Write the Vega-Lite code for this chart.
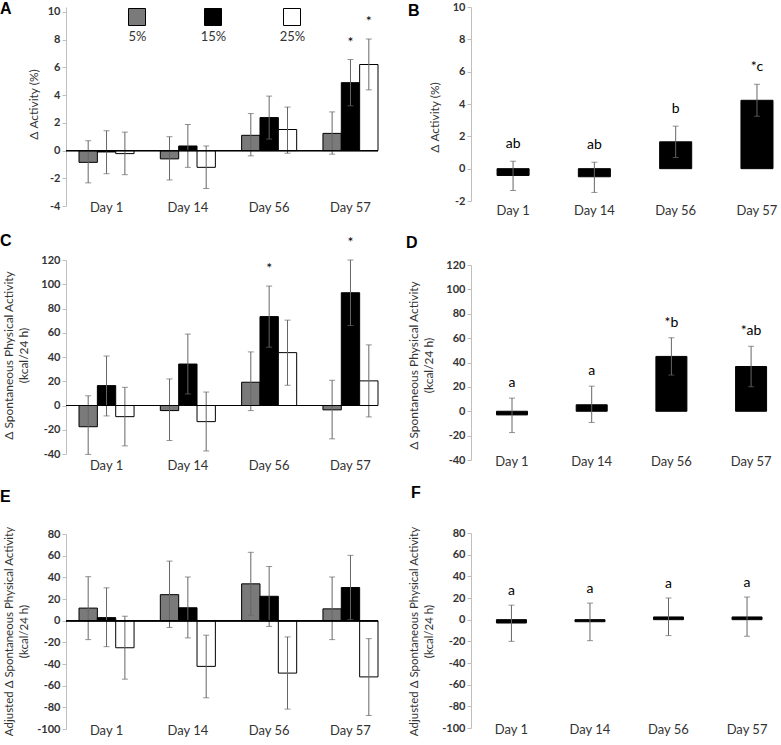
{
  "$schema": "https://vega.github.io/schema/vega-lite/v6.json",
  "background": "white",
  "padding": 0,
  "config": {
    "font": "Lato",
    "view": {"stroke": null},
    "axisY": {"grid": false, "domainColor": "#bfbfbf", "tickColor": "#bfbfbf", "tickSize": 4, "labelFontWeight": "bold", "labelFontSize": 11, "labelPadding": 2, "labelColor": "#333", "labelOverlap": false, "titleFontSize": 12, "titleFontWeight": "normal", "titleColor": "#333", "titleAlign": "center", "titleBaseline": "middle", "titleAngle": -90, "titleLineHeight": 15.5},
    "axisX": {"domain": false, "ticks": false, "labelAngle": 0, "labelFontSize": 13, "labelBaseline": "middle", "labelColor": "#333", "labelOverlap": false, "title": null},
    "title": {"anchor": "start", "frame": "group", "offset": 0, "fontSize": 16, "font": "Liberation Sans", "fontWeight": "bold", "baseline": "alphabetic", "color": "#000"}
  },
  "datasets": {
    "A": [
      {"day": "Day 1", "conc": "5%", "mean": -0.85, "lo": -2.33, "hi": 0.71, "label": ""},
      {"day": "Day 1", "conc": "15%", "mean": -0.1, "lo": -1.67, "hi": 1.43, "label": ""},
      {"day": "Day 1", "conc": "25%", "mean": -0.22, "lo": -1.74, "hi": 1.33, "label": ""},
      {"day": "Day 14", "conc": "5%", "mean": -0.6, "lo": -2.12, "hi": 1.0, "label": ""},
      {"day": "Day 14", "conc": "15%", "mean": 0.33, "lo": -1.21, "hi": 1.88, "label": ""},
      {"day": "Day 14", "conc": "25%", "mean": -1.21, "lo": -2.74, "hi": 0.33, "label": ""},
      {"day": "Day 56", "conc": "5%", "mean": 1.1, "lo": -0.38, "hi": 2.67, "label": ""},
      {"day": "Day 56", "conc": "15%", "mean": 2.38, "lo": 0.83, "hi": 3.93, "label": ""},
      {"day": "Day 56", "conc": "25%", "mean": 1.52, "lo": -0.19, "hi": 3.14, "label": ""},
      {"day": "Day 57", "conc": "5%", "mean": 1.24, "lo": -0.26, "hi": 2.79, "label": ""},
      {"day": "Day 57", "conc": "15%", "mean": 4.9, "lo": 3.23, "hi": 6.57, "label": "*"},
      {"day": "Day 57", "conc": "25%", "mean": 6.21, "lo": 4.38, "hi": 8.05, "label": "*"}
    ],
    "B": [
      {"day": "Day 1", "mean": -0.42, "lo": -1.35, "hi": 0.46, "label": "ab"},
      {"day": "Day 14", "mean": -0.5, "lo": -1.47, "hi": 0.4, "label": "ab"},
      {"day": "Day 56", "mean": 1.66, "lo": 0.69, "hi": 2.63, "label": "b"},
      {"day": "Day 57", "mean": 4.23, "lo": 3.24, "hi": 5.22, "label": "*c"}
    ],
    "C": [
      {"day": "Day 1", "conc": "5%", "mean": -17.5, "lo": -40.3, "hi": 8, "label": ""},
      {"day": "Day 1", "conc": "15%", "mean": 16.4, "lo": -8.6, "hi": 40.8, "label": ""},
      {"day": "Day 1", "conc": "25%", "mean": -9.2, "lo": -33.3, "hi": 15, "label": ""},
      {"day": "Day 14", "conc": "5%", "mean": -4.2, "lo": -28.9, "hi": 21.9, "label": ""},
      {"day": "Day 14", "conc": "15%", "mean": 34.2, "lo": 9.5, "hi": 58.9, "label": ""},
      {"day": "Day 14", "conc": "25%", "mean": -13.3, "lo": -37.5, "hi": 11.1, "label": ""},
      {"day": "Day 56", "conc": "5%", "mean": 19.2, "lo": -4.2, "hi": 44.2, "label": ""},
      {"day": "Day 56", "conc": "15%", "mean": 73.3, "lo": 48.1, "hi": 98.5, "label": "*"},
      {"day": "Day 56", "conc": "25%", "mean": 43.6, "lo": 16.7, "hi": 70.4, "label": ""},
      {"day": "Day 57", "conc": "5%", "mean": -3.6, "lo": -27.5, "hi": 20.8, "label": ""},
      {"day": "Day 57", "conc": "15%", "mean": 93, "lo": 66, "hi": 120, "label": "*"},
      {"day": "Day 57", "conc": "25%", "mean": 20.3, "lo": -9.4, "hi": 50, "label": ""}
    ],
    "D": [
      {"day": "Day 1", "mean": -3, "lo": -17.5, "hi": 10.8, "label": "a"},
      {"day": "Day 14", "mean": 5.3, "lo": -9.2, "hi": 20.6, "label": "a"},
      {"day": "Day 56", "mean": 45, "lo": 29.7, "hi": 60.3, "label": "*b"},
      {"day": "Day 57", "mean": 36.7, "lo": 20.1, "hi": 53.3, "label": "*ab"}
    ],
    "E": [
      {"day": "Day 1", "conc": "5%", "mean": 11.6, "lo": -17.5, "hi": 40.6, "label": ""},
      {"day": "Day 1", "conc": "15%", "mean": 2.8, "lo": -24, "hi": 30.3, "label": ""},
      {"day": "Day 1", "conc": "25%", "mean": -25, "lo": -54, "hi": 4.1, "label": ""},
      {"day": "Day 14", "conc": "5%", "mean": 24, "lo": -6.25, "hi": 55, "label": ""},
      {"day": "Day 14", "conc": "15%", "mean": 11.9, "lo": -15.9, "hi": 40.3, "label": ""},
      {"day": "Day 14", "conc": "25%", "mean": -42.2, "lo": -71.2, "hi": -13.4, "label": ""},
      {"day": "Day 56", "conc": "5%", "mean": 34, "lo": 5, "hi": 63.1, "label": ""},
      {"day": "Day 56", "conc": "15%", "mean": 22.5, "lo": -5.3, "hi": 50, "label": ""},
      {"day": "Day 56", "conc": "25%", "mean": -48.4, "lo": -81.6, "hi": -15, "label": ""},
      {"day": "Day 57", "conc": "5%", "mean": 10.9, "lo": -17.5, "hi": 40.3, "label": ""},
      {"day": "Day 57", "conc": "15%", "mean": 30.6, "lo": 0.9, "hi": 60.3, "label": ""},
      {"day": "Day 57", "conc": "25%", "mean": -51.9, "lo": -87.5, "hi": -16.6, "label": ""}
    ],
    "F": [
      {"day": "Day 1", "mean": -3.1, "lo": -20, "hi": 13.4, "label": "a"},
      {"day": "Day 14", "mean": -1.9, "lo": -19.4, "hi": 15.3, "label": "a"},
      {"day": "Day 56", "mean": 2.5, "lo": -14.7, "hi": 20, "label": "a"},
      {"day": "Day 57", "mean": 2.5, "lo": -15.3, "hi": 20.9, "label": "a"}
    ]
  },
  "spacing": 27,
  "resolve": {"scale": {"fill": "independent"}, "legend": {"fill": "independent"}},
  "hconcat": [
    {
      "spacing": 19,
      "resolve": {"scale": {"fill": "independent"}, "legend": {"fill": "independent"}},
      "vconcat": [
        {
          "width": 312, "height": 199,
          "title": {"text": "A", "dx": -66, "dy": 15},
          "data": {"name": "A"},
          "layer": [
            {"mark": {"type": "bar", "stroke": "#000", "strokeWidth": 1},
             "encoding": {
               "x": {"field": "day", "type": "nominal", "sort": ["Day 1", "Day 14", "Day 56", "Day 57"], "scale": {"paddingInner": 0.323, "paddingOuter": 0.08, "align": 1}, "axis": {"labelPadding": 1}},
               "xOffset": {"field": "conc", "type": "nominal", "sort": ["5%", "15%", "25%"], "scale": {"paddingInner": 0, "paddingOuter": 0}},
               "y": {"field": "mean", "type": "quantitative", "scale": {"domain": [-4, 10.36], "nice": false, "zero": false}, "axis": {"values": [-4, -2, 0, 2, 4, 6, 8, 10], "tickCount": 30, "labelExpr": "'' + datum.value", "labelOverlap": false, "title": "Δ Activity (%)", "titleX": -33, "titleY": 97}},
               "y2": {"datum": 0},
               "fill": {"field": "conc", "type": "nominal", "sort": ["5%", "15%", "25%"], "scale": {"domain": ["5%", "15%", "25%"], "range": ["#7a7a7a", "#000000", "#ffffff"]},
                 "legend": {"orient": "none", "legendX": 62, "legendY": 1, "direction": "horizontal", "title": null, "symbolType": "square", "symbolSize": 289, "symbolStrokeColor": "#000", "symbolStrokeWidth": 1, "symbolOpacity": 1, "labelFontSize": 13, "labelAlign": "center", "labelOffset": -8.5, "labelBaseline": "middle", "columnPadding": 52, "labelColor": "#333",
                   "encoding": {"labels": {"dy": {"value": 20}}}}}
             }},
            {"mark": {"type": "rule", "color": "#666", "strokeWidth": 1},
             "encoding": {
               "x": {"field": "day", "type": "nominal", "sort": ["Day 1", "Day 14", "Day 56", "Day 57"]},
               "xOffset": {"field": "conc", "type": "nominal", "sort": ["5%", "15%", "25%"]},
               "y": {"field": "lo", "type": "quantitative"}, "y2": {"field": "hi"}}},
            {"mark": {"type": "tick", "color": "#666", "size": 6, "thickness": 1},
             "encoding": {
               "x": {"field": "day", "type": "nominal", "sort": ["Day 1", "Day 14", "Day 56", "Day 57"]},
               "xOffset": {"field": "conc", "type": "nominal", "sort": ["5%", "15%", "25%"]},
               "y": {"field": "hi", "type": "quantitative"}}},
            {"mark": {"type": "tick", "color": "#666", "size": 6, "thickness": 1},
             "encoding": {
               "x": {"field": "day", "type": "nominal", "sort": ["Day 1", "Day 14", "Day 56", "Day 57"]},
               "xOffset": {"field": "conc", "type": "nominal", "sort": ["5%", "15%", "25%"]},
               "y": {"field": "lo", "type": "quantitative"}}},
            {"mark": {"type": "rule", "color": "#000", "strokeWidth": 1}, "encoding": {"y": {"datum": 0}}},
            {"mark": {"type": "text", "dy": -17, "fontSize": 14, "baseline": "middle", "color": "#000"},
             "encoding": {
               "x": {"field": "day", "type": "nominal", "sort": ["Day 1", "Day 14", "Day 56", "Day 57"]},
               "xOffset": {"field": "conc", "type": "nominal", "sort": ["5%", "15%", "25%"]},
               "y": {"field": "hi", "type": "quantitative"}, "text": {"field": "label"}}}
          ]
        },
        {
          "spacing": 17,
          "resolve": {"scale": {"fill": "independent"}, "legend": {"fill": "independent"}},
          "vconcat": [
            {
              "width": 312, "height": 194,
              "title": {"text": "C", "dx": -66, "dy": 17},
              "data": {"name": "C"},
              "layer": [
                {"mark": {"type": "bar", "stroke": "#000", "strokeWidth": 1},
                 "encoding": {
                   "x": {"field": "day", "type": "nominal", "sort": ["Day 1", "Day 14", "Day 56", "Day 57"], "scale": {"paddingInner": 0.323, "paddingOuter": 0.08, "align": 1}, "axis": {"labelPadding": 11}},
                   "xOffset": {"field": "conc", "type": "nominal", "sort": ["5%", "15%", "25%"], "scale": {"paddingInner": 0, "paddingOuter": 0}},
                   "y": {"field": "mean", "type": "quantitative", "scale": {"domain": [-40, 120], "nice": false, "zero": false}, "axis": {"values": [-40, -20, 0, 20, 40, 60, 80, 100, 120], "tickCount": 30, "labelExpr": "'' + datum.value", "labelOverlap": false, "title": ["Δ Spontaneous Physical Activity", "(kcal/24 h)"], "titleX": -58, "titleY": 95}},
                   "y2": {"datum": 0},
                   "fill": {"field": "conc", "type": "nominal", "sort": ["5%", "15%", "25%"], "scale": {"domain": ["5%", "15%", "25%"], "range": ["#7a7a7a", "#000000", "#ffffff"]}, "legend": null}
                 }},
                {"mark": {"type": "rule", "color": "#666", "strokeWidth": 1},
                 "encoding": {
                   "x": {"field": "day", "type": "nominal", "sort": ["Day 1", "Day 14", "Day 56", "Day 57"]},
                   "xOffset": {"field": "conc", "type": "nominal", "sort": ["5%", "15%", "25%"]},
                   "y": {"field": "lo", "type": "quantitative"}, "y2": {"field": "hi"}}},
                {"mark": {"type": "tick", "color": "#666", "size": 6, "thickness": 1},
                 "encoding": {
                   "x": {"field": "day", "type": "nominal", "sort": ["Day 1", "Day 14", "Day 56", "Day 57"]},
                   "xOffset": {"field": "conc", "type": "nominal", "sort": ["5%", "15%", "25%"]},
                   "y": {"field": "hi", "type": "quantitative"}}},
                {"mark": {"type": "tick", "color": "#666", "size": 6, "thickness": 1},
                 "encoding": {
                   "x": {"field": "day", "type": "nominal", "sort": ["Day 1", "Day 14", "Day 56", "Day 57"]},
                   "xOffset": {"field": "conc", "type": "nominal", "sort": ["5%", "15%", "25%"]},
                   "y": {"field": "lo", "type": "quantitative"}}},
                {"mark": {"type": "rule", "color": "#000", "strokeWidth": 1}, "encoding": {"y": {"datum": 0}}},
                {"mark": {"type": "text", "dy": -17, "fontSize": 14, "baseline": "middle", "color": "#000"},
                 "encoding": {
                   "x": {"field": "day", "type": "nominal", "sort": ["Day 1", "Day 14", "Day 56", "Day 57"]},
                   "xOffset": {"field": "conc", "type": "nominal", "sort": ["5%", "15%", "25%"]},
                   "y": {"field": "hi", "type": "quantitative"}, "text": {"field": "label"}}}
              ]
            },
            {
              "width": 312, "height": 195,
              "title": {"text": "E", "dx": -66, "dy": -17},
              "data": {"name": "E"},
              "layer": [
                {"mark": {"type": "bar", "stroke": "#000", "strokeWidth": 1},
                 "encoding": {
                   "x": {"field": "day", "type": "nominal", "sort": ["Day 1", "Day 14", "Day 56", "Day 57"], "scale": {"paddingInner": 0.323, "paddingOuter": 0.08, "align": 1}, "axis": {"labelPadding": 1}},
                   "xOffset": {"field": "conc", "type": "nominal", "sort": ["5%", "15%", "25%"], "scale": {"paddingInner": 0, "paddingOuter": 0}},
                   "y": {"field": "mean", "type": "quantitative", "scale": {"domain": [-100, 80], "nice": false, "zero": false}, "axis": {"values": [-100, -80, -60, -40, -20, 0, 20, 40, 60, 80], "tickCount": 30, "labelExpr": "'' + datum.value", "labelOverlap": false, "title": ["Adjusted Δ Spontaneous Physical Activity", "(kcal/24 h)"], "titleFontSize": 11.5, "titleX": -57, "titleY": 97}},
                   "y2": {"datum": 0},
                   "fill": {"field": "conc", "type": "nominal", "sort": ["5%", "15%", "25%"], "scale": {"domain": ["5%", "15%", "25%"], "range": ["#7a7a7a", "#000000", "#ffffff"]}, "legend": null}
                 }},
                {"mark": {"type": "rule", "color": "#666", "strokeWidth": 1},
                 "encoding": {
                   "x": {"field": "day", "type": "nominal", "sort": ["Day 1", "Day 14", "Day 56", "Day 57"]},
                   "xOffset": {"field": "conc", "type": "nominal", "sort": ["5%", "15%", "25%"]},
                   "y": {"field": "lo", "type": "quantitative"}, "y2": {"field": "hi"}}},
                {"mark": {"type": "tick", "color": "#666", "size": 6, "thickness": 1},
                 "encoding": {
                   "x": {"field": "day", "type": "nominal", "sort": ["Day 1", "Day 14", "Day 56", "Day 57"]},
                   "xOffset": {"field": "conc", "type": "nominal", "sort": ["5%", "15%", "25%"]},
                   "y": {"field": "hi", "type": "quantitative"}}},
                {"mark": {"type": "tick", "color": "#666", "size": 6, "thickness": 1},
                 "encoding": {
                   "x": {"field": "day", "type": "nominal", "sort": ["Day 1", "Day 14", "Day 56", "Day 57"]},
                   "xOffset": {"field": "conc", "type": "nominal", "sort": ["5%", "15%", "25%"]},
                   "y": {"field": "lo", "type": "quantitative"}}},
                {"mark": {"type": "rule", "color": "#000", "strokeWidth": 1}, "encoding": {"y": {"datum": 0}}}
              ]
            }
          ]
        }
      ]
    },
    {
      "spacing": 18,
      "vconcat": [
        {
          "width": 311, "height": 194,
          "title": {"text": "B", "dx": -63, "dy": 22},
          "data": {"name": "B"},
          "encoding": {
            "x": {"field": "day", "type": "nominal", "sort": ["Day 1", "Day 14", "Day 56", "Day 57"], "scale": {"paddingInner": 0.606, "paddingOuter": 0.2157, "align": 0.743}, "axis": {"labelPadding": 9}}
          },
          "layer": [
            {"mark": {"type": "bar", "stroke": "#000", "strokeWidth": 1, "fill": "#000"},
             "encoding": {
               "y": {"field": "mean", "type": "quantitative", "scale": {"domain": [-2, 10], "nice": false, "zero": false}, "axis": {"values": [-2, 0, 2, 4, 6, 8, 10], "tickCount": 30, "labelExpr": "'' + datum.value", "labelOverlap": false, "title": "Δ Activity (%)", "titleX": -37, "titleY": 110}},
               "y2": {"datum": 0}}},
            {"mark": {"type": "rule", "color": "#666", "strokeWidth": 1},
             "encoding": {"y": {"field": "lo", "type": "quantitative"}, "y2": {"field": "hi"}}},
            {"mark": {"type": "tick", "color": "#666", "size": 6, "thickness": 1},
             "encoding": {"y": {"field": "hi", "type": "quantitative"}}},
            {"mark": {"type": "tick", "color": "#666", "size": 6, "thickness": 1},
             "encoding": {"y": {"field": "lo", "type": "quantitative"}}},
            {"mark": {"type": "rule", "color": "#000", "strokeWidth": 1}, "encoding": {"y": {"datum": 0}}},
            {"mark": {"type": "text", "dy": -17, "fontSize": 14, "baseline": "middle", "color": "#000"},
             "encoding": {"y": {"field": "hi", "type": "quantitative"}, "text": {"field": "label"}}}
          ]
        },
        {
          "spacing": 17,
          "vconcat": [
            {
              "width": 301, "height": 195,
              "title": {"text": "D", "dx": -65, "dy": -4},
              "data": {"name": "D"},
              "encoding": {
                "x": {"field": "day", "type": "nominal", "sort": ["Day 1", "Day 14", "Day 56", "Day 57"], "scale": {"paddingInner": 0.611, "paddingOuter": 0.194, "align": 0.825}, "axis": {"labelPadding": 1}}
              },
              "layer": [
                {"mark": {"type": "bar", "stroke": "#000", "strokeWidth": 1, "fill": "#000"},
                 "encoding": {
                   "y": {"field": "mean", "type": "quantitative", "scale": {"domain": [-40, 120], "nice": false, "zero": false}, "axis": {"values": [-40, -20, 0, 20, 40, 60, 80, 100, 120], "tickCount": 30, "labelExpr": "'' + datum.value", "labelOverlap": false, "title": ["Δ Spontaneous Physical Activity", "(kcal/24 h)"], "titleX": -58, "titleY": 100}},
                   "y2": {"datum": 0}}},
                {"mark": {"type": "rule", "color": "#666", "strokeWidth": 1},
                 "encoding": {"y": {"field": "lo", "type": "quantitative"}, "y2": {"field": "hi"}}},
                {"mark": {"type": "tick", "color": "#666", "size": 6, "thickness": 1},
                 "encoding": {"y": {"field": "hi", "type": "quantitative"}}},
                {"mark": {"type": "tick", "color": "#666", "size": 6, "thickness": 1},
                 "encoding": {"y": {"field": "lo", "type": "quantitative"}}},
                {"mark": {"type": "rule", "color": "#000", "strokeWidth": 1}, "encoding": {"y": {"datum": 0}}},
                {"mark": {"type": "text", "dy": -15, "fontSize": 14, "baseline": "middle", "color": "#000"},
                 "encoding": {"y": {"field": "hi", "type": "quantitative"}, "text": {"field": "label"}}}
              ]
            },
            {
              "width": 297, "height": 195,
              "title": {"text": "F", "dx": -60, "dy": -21},
              "data": {"name": "F"},
              "encoding": {
                "x": {"field": "day", "type": "nominal", "sort": ["Day 1", "Day 14", "Day 56", "Day 57"], "scale": {"paddingInner": 0.618, "paddingOuter": 0.2, "align": 0.81}, "axis": {"labelPadding": 1}}
              },
              "layer": [
                {"mark": {"type": "bar", "stroke": "#000", "strokeWidth": 1, "fill": "#000"},
                 "encoding": {
                   "y": {"field": "mean", "type": "quantitative", "scale": {"domain": [-100, 80], "nice": false, "zero": false}, "axis": {"values": [-100, -80, -60, -40, -20, 0, 20, 40, 60, 80], "tickCount": 30, "labelExpr": "'' + datum.value", "labelOverlap": false, "title": ["Adjusted Δ Spontaneous Physical Activity", "(kcal/24 h)"], "titleFontSize": 11.5, "titleX": -57, "titleY": 98}},
                   "y2": {"datum": 0}}},
                {"mark": {"type": "rule", "color": "#666", "strokeWidth": 1},
                 "encoding": {"y": {"field": "lo", "type": "quantitative"}, "y2": {"field": "hi"}}},
                {"mark": {"type": "tick", "color": "#666", "size": 6, "thickness": 1},
                 "encoding": {"y": {"field": "hi", "type": "quantitative"}}},
                {"mark": {"type": "tick", "color": "#666", "size": 6, "thickness": 1},
                 "encoding": {"y": {"field": "lo", "type": "quantitative"}}},
                {"mark": {"type": "rule", "color": "#000", "strokeWidth": 1}, "encoding": {"y": {"datum": 0}}},
                {"mark": {"type": "text", "dy": -14, "fontSize": 14, "baseline": "middle", "color": "#000"},
                 "encoding": {"y": {"field": "hi", "type": "quantitative"}, "text": {"field": "label"}}}
              ]
            }
          ]
        }
      ]
    }
  ]
}
